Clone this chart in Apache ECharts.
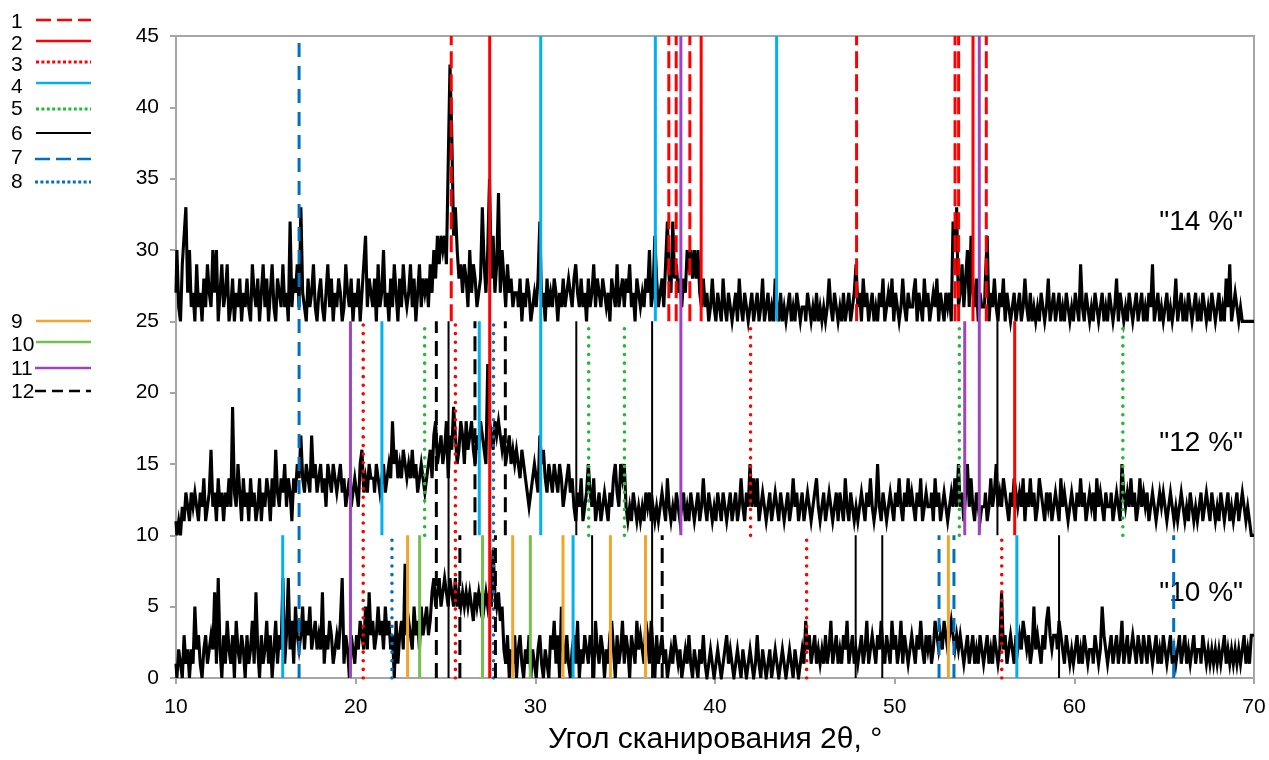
<!DOCTYPE html>
<html><head><meta charset="utf-8">
<script src="https://cdn.jsdelivr.net/npm/echarts@6/dist/echarts.min.js"></script>
<style>html,body{margin:0;padding:0;background:#fff}#c{width:1269px;height:760px}</style>
</head><body><div id="c"></div>
<script>
// 2θ grid: first angle and step of the scans
const angleStart = 10;
const angleStep = 0.1;

// "14 %" scan (plotted with +25 offset)
const scan14 = [
27,30,26,25,29,31,33,27,30,26,
27,25,29,26,27,25,28,26,29,27,
26,30,27,30,25,27,29,26,27,29,
25,26,28,25,27,26,28,25,27,26,
28,26,25,29,27,26,28,25,27,29,
26,28,25,27,29,26,25,28,27,26,
29,26,27,25,32,26,28,27,29,26,
33,27,26,25,28,26,27,29,26,25,
27,28,26,25,27,29,26,28,25,27,
26,28,27,25,26,29,27,26,28,25,
27,26,28,25,27,29,31,26,28,27,
26,28,25,29,26,27,30,26,27,25,
28,26,29,27,25,28,26,29,27,26,
27,29,26,28,25,27,29,26,28,27,
28,26,29,27,30,28,31,29,31,30,
31,29,36,43,38,31,33,30,28,29,
27,29,28,26,30,27,29,28,26,27,
28,33,29,27,30,35,28,31,27,29,
34,27,30,28,26,29,27,28,26,27,
27,26,28,25,27,26,28,27,25,26,
27,26,28,32,26,27,25,28,26,27,
26,28,27,25,27,26,28,26,27,28,
27,26,28,29,27,26,28,26,27,25,
28,26,27,29,26,28,27,26,28,27,
26,27,25,28,27,26,29,26,27,28,
26,28,27,29,26,27,25,28,27,26,
27,26,28,27,30,26,27,31,28,26,
27,28,26,29,32,28,27,32,28,29,
27,28,26,28,27,30,29,30,28,30,
28,30,27,26,28,26,27,25,26,28,
26,25,27,26,25,28,26,25,27,26,
25,26,27,25,28,26,25,27,26,25,
26,27,25,26,27,25,26,28,25,26,
27,25,26,25,28,26,25,27,25,26,
25,26,27,25,26,25,27,26,25,26,
26,25,27,26,25,26,25,27,25,26,
25,26,25,26,28,26,25,27,26,25,
26,25,27,25,26,27,25,26,27,29,
26,27,25,28,26,27,25,26,27,25,
26,25,27,26,28,25,26,27,26,28,
25,27,26,25,26,28,26,25,27,26,
26,27,28,25,27,26,25,28,26,27,
25,26,27,26,28,25,27,26,25,27,
26,27,25,32,30,33,26,27,29,26,
28,30,26,31,27,26,28,25,27,26,
26,28,31,25,27,26,28,26,25,27,
26,28,25,27,26,25,26,27,25,26,
27,25,26,28,26,25,27,25,26,25,
26,25,27,26,25,26,28,25,26,27,
25,26,27,25,26,25,27,26,25,26,
25,27,26,25,29,26,25,27,26,25,
26,25,27,26,25,26,27,25,26,25,
27,26,25,26,28,25,27,26,25,26,
25,27,26,25,26,27,25,26,27,25,
26,25,27,26,29,25,26,27,25,26,
25,26,27,25,26,25,26,28,25,26,
27,25,26,25,27,26,25,26,27,25,
26,25,27,26,25,26,25,27,26,25,
26,27,25,26,25,28,26,29,25,26,
27,26,25,26,25,25,25,25,25,25,
25];

// "12 %" scan (plotted with +10 offset)
const scan12 = [
11,10,11,10,12,11,13,12,11,13,
12,13,12,11,13,12,14,11,12,13,
16,12,13,11,14,12,13,11,13,12,
14,12,19,13,12,15,13,11,14,12,
13,11,14,12,13,11,12,14,11,13,
12,14,13,11,14,12,16,13,12,14,
13,15,12,14,13,11,14,13,15,14,
17,14,13,15,14,13,17,14,15,13,
14,15,13,14,12,15,14,13,15,14,
13,14,15,13,14,12,13,14,12,13,
14,13,12,15,16,13,14,13,15,14,
14,13,15,14,13,14,15,13,14,15,
14,18,15,16,14,15,14,16,15,14,
15,14,16,14,15,13,14,15,14,13,
14,15,16,14,17,18,15,16,17,15,
16,18,14,17,16,19,17,15,16,18,
17,15,18,16,17,18,16,15,17,16,
18,17,16,15,22,18,17,16,18,17,
18,17,16,17,15,16,17,15,16,15,
16,15,14,16,15,14,13,12,13,14,
15,14,13,17,15,16,14,13,15,14,
13,15,14,13,15,14,12,13,14,15,
13,14,12,11,13,12,14,11,12,13,
15,13,12,14,11,12,13,11,12,13,
12,11,13,12,14,15,13,12,15,14,
15,12,11,12,11,13,12,11,12,11,
12,11,13,12,13,11,12,11,12,11,
12,13,12,11,14,12,11,12,11,13,
12,11,12,13,11,12,11,13,12,11,
12,13,11,12,14,12,11,13,12,11,
12,11,13,12,11,13,12,11,12,13,
11,12,13,11,12,14,12,11,13,12,
15,12,14,12,14,11,12,13,12,11,
12,13,11,12,13,12,11,13,12,11,
12,13,11,12,14,12,13,11,12,13,
11,12,13,12,11,12,13,14,12,11,
12,13,11,12,13,12,11,12,13,11,
13,12,11,14,12,11,13,12,11,12,
11,12,13,12,11,13,12,14,12,11,
12,15,12,11,13,12,11,12,13,12,
11,13,12,14,12,11,13,12,14,12,
13,12,11,13,12,14,11,12,13,12,
12,13,11,14,12,13,11,12,13,12,
11,12,13,12,14,12,15,12,13,11,
13,15,12,14,12,11,13,12,11,12,
12,13,11,12,14,12,13,15,12,13,
12,14,13,12,11,13,12,14,13,12,
13,12,14,11,13,12,14,12,13,11,
12,14,13,12,11,13,12,13,11,12,
13,12,11,14,12,13,12,11,12,13,
12,11,13,12,14,12,13,11,12,13,
12,13,11,14,12,13,12,11,13,12,
12,13,11,12,13,12,11,15,13,12,
13,12,14,12,13,11,12,14,12,13,
12,13,11,12,13,12,11,12,13,12,
13,12,11,12,13,12,11,12,11,12,
13,12,11,12,11,13,12,11,12,11,
12,13,11,12,13,12,11,13,12,11,
12,11,13,12,11,12,13,11,12,11,
12,13,11,12,13,12,11,12,11,10,
10];

// "10 %" scan (no offset)
const scan10 = [
1,0,2,1,0,3,1,2,0,2,
1,5,2,3,1,0,2,3,1,2,
3,2,6,1,7,2,0,3,1,4,
2,1,3,0,4,2,1,3,2,0,
3,1,2,4,1,6,2,0,3,1,
2,4,1,3,0,2,4,1,3,2,
7,1,3,7,2,4,1,5,3,2,
3,5,2,4,3,5,2,3,4,2,
3,2,6,1,3,2,4,3,1,2,
3,2,4,7,1,3,2,0,3,2,
1,3,2,4,3,2,5,2,6,3,
4,2,3,5,3,4,2,5,3,4,
2,3,0,4,1,3,4,2,8,3,
4,3,2,5,3,4,2,5,3,4,
5,3,4,6,7,5,6,7,5,6,
7,6,5,7,6,5,7,5,6,5,
6,5,6,5,6,5,4,6,5,6,
5,6,5,6,5,6,5,9,6,5,
6,4,5,2,1,3,0,2,1,3,
0,2,3,1,0,2,1,3,0,2,
1,0,2,3,1,0,2,1,0,3,
2,4,1,3,0,5,2,1,3,1,
0,2,3,1,4,0,2,1,3,2,
1,3,2,0,4,2,1,3,2,0,
2,1,3,4,2,0,3,1,2,4,
1,3,2,0,3,2,1,4,2,3,
2,1,4,3,1,4,2,0,3,1,
2,3,1,2,0,1,2,1,3,2,
1,2,0,1,2,1,3,1,0,2,
1,0,2,1,3,1,0,1,2,1,
0,1,2,1,0,1,2,3,1,2,
1,0,1,2,1,0,2,1,0,1,
2,1,0,1,3,1,0,2,1,0,
1,2,0,1,2,1,0,1,2,1,
0,1,2,1,0,2,1,0,1,2,
1,4,2,3,1,2,3,1,2,1,
2,1,3,1,2,4,1,2,3,1,
2,1,3,2,4,1,2,3,1,2,
1,2,3,1,2,4,1,2,3,2,
1,3,2,4,2,1,3,2,1,4,
2,3,1,2,4,1,3,2,1,2,
3,2,1,3,2,4,2,1,3,2,
3,1,2,4,3,2,3,2,4,3,
2,3,4,3,2,3,2,3,2,1,
2,3,1,2,3,1,2,1,3,2,
1,2,3,1,2,1,3,2,1,2,
6,2,3,1,2,3,2,1,3,2,
3,2,4,3,2,3,1,2,5,2,
3,2,1,3,2,4,5,3,2,3,
3,2,4,3,2,1,3,2,1,2,
1,2,3,1,2,1,3,2,1,2,
2,1,3,2,1,2,5,3,2,1,
2,3,1,2,3,1,2,4,1,2,
3,1,2,3,2,1,3,2,1,3,
2,1,3,2,1,2,3,1,2,1,
3,2,1,2,3,1,2,1,2,3,
1,2,3,1,2,1,2,3,1,2,
2,1,3,2,1,2,1,2,1,2,
1,2,1,2,3,1,2,1,2,1,
2,1,2,1,2,3,1,2,1,3,
3];

// Reference lines per legend number: [2θ, from, to]
const ref1 = [[25.32,25,45],[37.43,25,45],[37.84,25,45],[38.6,25,45],[47.88,25,45],[53.36,25,45],[53.56,25,45],[55.1,25,45]];
const ref2 = [[27.46,0,45],[39.23,25,45],[54.36,25,45],[56.68,10,25]];
const ref3 = [[20.42,0,25],[25.55,0,25],[41.98,10,25],[45.1,0,10],[55.96,0,10]];
const ref4 = [[30.3,10,45],[36.68,25,45],[43.43,25,45],[21.46,10,25],[26.88,10,25],[15.94,0,10],[32.1,0,10],[56.8,0,10]];
const ref5 = [[23.84,10,25],[32.97,10,25],[34.96,10,25],[53.6,10,25],[62.7,10,25]];
const ref6 = [[25.17,0,25],[32.28,10,25],[36.5,0,25],[55.72,10,25],[33.16,0,10],[47.83,0,10],[49.31,0,10],[59.15,0,10]];
const ref7 = [[16.85,0,45],[52.47,0,10],[53.3,0,10],[65.53,0,10]];
const ref8 = [[27.67,0,25],[22.02,0,10]];
const ref9 = [[22.89,0,10],[28.74,0,10],[31.54,0,10],[34.18,0,10],[36.13,0,10],[52.99,0,10]];
const ref10 = [[23.56,0,10],[27.06,0,10],[29.72,0,10]];
const ref11 = [[38.1,10,45],[54.71,10,45],[19.71,0,25],[53.9,10,25]];
const ref12 = [[24.49,0,25],[26.64,10,25],[28.33,10,25],[25.8,0,10],[27.78,0,10],[37.06,0,10]];

const legendLabels = ['1','2','3','4','5','6','7','8','9','10','11','12'];
const scanLabels = ['"14 %"','"12 %"','"10 %"'];
const xTicks = [10,20,30,40,50,60,70];
const yTicks = [0,5,10,15,20,25,30,35,40,45];

const FONT = '"Liberation Sans", Arial, sans-serif';
const refs = [ref1,ref2,ref3,ref4,ref5,ref6,ref7,ref8,ref9,ref10,ref11,ref12];
const dot = [0.01, 8.6];
const refStyles = [
  {color:'#FF0000', width:3, type:[17,6]},
  {color:'#FF0000', width:3, type:'solid'},
  {color:'#FF0000', width:3.6, type:dot, cap:'round'},
  {color:'#00B0F0', width:3, type:'solid'},
  {color:'#22BB33', width:3.6, type:dot, cap:'round'},
  {color:'#000000', width:2, type:'solid'},
  {color:'#0070C0', width:3, type:[14,9]},
  {color:'#0070C0', width:3.6, type:dot, cap:'round'},
  {color:'#F2A52A', width:3, type:'solid'},
  {color:'#74C04C', width:3, type:'solid'},
  {color:'#A043BF', width:3, type:'solid'},
  {color:'#000000', width:3, type:[15,8]}
];
const legendDash = [[15,6],null,[3,2.4],null,[3,2.4],null,[15,6],[3,2.4],null,null,null,[11,6]];
const legendLineY = [20,41,62,83,109,133,159,182,321,342,368,391];
const legendTextY = [22,44,65,87,109,134,158,182,322,345,369,392];

function withAngles(arr){ return arr.map((v,i)=>[+(angleStart + i*angleStep).toFixed(2), v]); }
function segments(list){ const d=[]; list.forEach(s=>{ d.push([s[0],s[1]],[s[0],s[2]],[s[0],'-']); }); return d; }

const series = [];
[scan10, scan12, scan14].forEach((s,k)=>{
  series.push({type:'line', name:'scan'+k, data:withAngles(s), symbol:'none', silent:true, z:2, step:'middle',
    lineStyle:{color:'#000', width:3.1, join:'miter'}, connectNulls:false});
});
refs.forEach((r,i)=>{
  const st = refStyles[i];
  series.push({type:'line', name:legendLabels[i], data:segments(r), symbol:'none', silent:true, z:3,
    connectNulls:false,
    lineStyle:{color:st.color, width:st.width, type:st.type, cap:st.cap||'butt'}});
});

const graphic = [];
legendLabels.forEach((lab,i)=>{
  const st = refStyles[i];
  graphic.push({type:'text', x:11, y:legendTextY[i], style:{text:lab, font:'21px '+FONT, fill:'#000', textAlign:'left', textVerticalAlign:'middle'}});
  graphic.push({type:'line', shape:{x1:(i>=6&&i!==8&&i!==9)?35:36, y1:legendLineY[i], x2:91, y2:legendLineY[i]},
    style:{stroke:st.color, lineWidth:(st.type===dot?3:(i===5?2.2:2.6)), lineDash:legendDash[i]||null}});
});
const labelY = [222,443,593];
scanLabels.forEach((t,i)=>{
  graphic.push({type:'text', x:1243, y:labelY[i], style:{text:t, font:'28px '+FONT, fill:'#000', textAlign:'right', textVerticalAlign:'middle'}});
});

const chart = echarts.init(document.getElementById('c'));
chart.setOption({
  animation:false,
  backgroundColor:'#fff',
  grid:{left:176, right:15, top:36, bottom:80, show:true, borderColor:'#A6A6A6', borderWidth:2, backgroundColor:'transparent'},
  xAxis:{type:'value', min:xTicks[0], max:xTicks[xTicks.length-1], interval:10,
    name:'Угол сканирования 2θ, °', nameLocation:'middle', nameGap:47,
    nameTextStyle:{fontSize:30, color:'#000', fontFamily:FONT},
    axisLine:{show:true, lineStyle:{color:'#A6A6A6', width:2}},
    axisTick:{show:true, length:6, lineStyle:{color:'#A6A6A6', width:2}},
    axisLabel:{fontSize:21, color:'#000', fontFamily:FONT, margin:19},
    splitLine:{show:false}},
  yAxis:{type:'value', min:yTicks[0], max:yTicks[yTicks.length-1], interval:5,
    axisLine:{show:true, lineStyle:{color:'#A6A6A6', width:2}},
    axisTick:{show:true, length:6, lineStyle:{color:'#A6A6A6', width:2}},
    axisLabel:{fontSize:21, color:'#000', fontFamily:FONT, margin:17},
    splitLine:{show:false}},
  series:series,
  graphic:graphic
});
</script></body></html>
